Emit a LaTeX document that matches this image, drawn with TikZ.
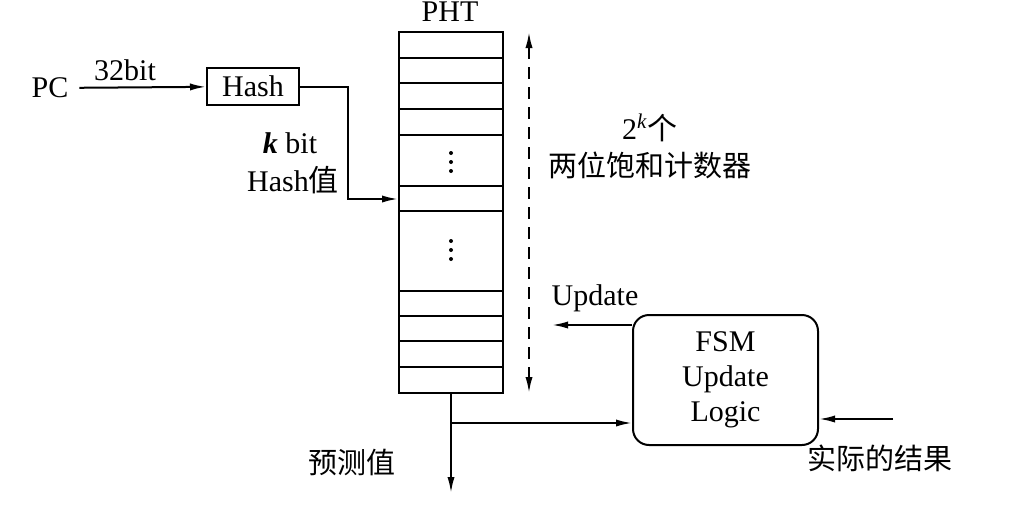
\documentclass[tikz,border=0pt]{standalone}
\usepackage{fontspec}
\setmainfont{Liberation Serif}
\newfontfamily\cjk{Noto Sans CJK SC}
\usetikzlibrary{arrows.meta}
\tikzset{
  tip/.tip={Latex[length=8pt,width=3.6pt]},
  flow/.style={line width=1pt, -tip},
  txt/.style={font=\fontsize{15}{17}\selectfont, inner sep=0pt},
  cjktxt/.style={font=\cjk\fontsize{14.5}{17}\selectfont, inner sep=0pt},
}
\begin{document}
\begin{tikzpicture}[x=0.5pt, y=-0.5pt, line width=1pt]
            \useasboundingbox (0,0) rectangle (1024,520);
            % input side
            \node[txt, inner sep=5pt] (pc) at (50,88) {PC};
            \node[draw, minimum width=46pt, minimum height=18.5pt, inner sep=0pt, font=\fontsize{15}{17}\selectfont] (hash) at (253,86.5) {Hash};
            \node[txt] (bits) at (125,70) {32bit};
            \node[txt] (kbit) at (290,143) {\textbf{\textit{k}} bit};
            \node[txt] (hval) at (293,180) {Hash{\cjk 值}};
            % PHT table
            \node[draw, minimum width=52pt, minimum height=180.5pt, inner sep=0pt] (pht) at (451,212.5) {};
            \node[txt] (phtlabel) at (450,12) {PHT};
            \foreach \y in {58,83,109,135,186,211,291,316,341,367}
            \draw (pht.west |- 0,\y) -- (pht.east |- 0,\y);
            \foreach \y in {153,162,171,241,250,259}
            \fill (451,\y) circle (2);
            \coordinate (slot) at (pht.west |- 0,199);
            % size of the table
            \coordinate (top) at (529,32);
            \coordinate (bot) at (529,393);
            \draw[dash pattern=on 6pt off 4pt, tip-tip] (top) -- (bot);
            \node[txt] (cnt) at (650,128) {2\textsuperscript{\textit{k}}{\cjk 个}};
            \node[cjktxt] (cntname) at (650,165) {两位饱和计数器};
            % update logic
            \node[draw, rounded corners=8pt, minimum width=92.5pt, minimum height=65pt, align=center, font=\fontsize{15}{17.5}\selectfont] (fsm) at (725.5,380) {FSM\\Update\\Logic};
            \coordinate (upd) at (552,325);
            \coordinate (res) at (893,419);
            \coordinate (br) at (451,423);
            \coordinate (out) at (451,493);
            \node[txt] (updlabel) at (595,298) {Update};
            \node[cjktxt] (pred) at (352,462) {预测值};
            \node[cjktxt] (actual) at (880,458) {实际的结果};
            % connectors
            \draw[flow] (pc) -- (hash);
            \draw[flow] (hash.east) -- ++(48,0) |- (slot);
            \draw[flow] (pht.south) -- (out);
            \draw[flow] (br) -- (fsm.west |- br);
            \draw[flow] (fsm.west |- upd) -- (upd);
            \draw[flow] (res) -- (fsm.east |- res);
        \end{tikzpicture}
\end{document}
